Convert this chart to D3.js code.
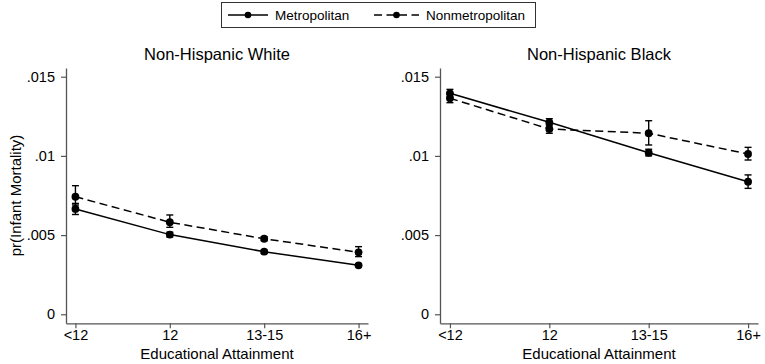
<!DOCTYPE html>
<html>
<head>
<meta charset="utf-8">
<script src="https://cdn.jsdelivr.net/npm/d3@7"></script>
<style>
  body { margin: 0; background: #fff; }
  svg { display: block; font-family: Arial, "Liberation Sans", sans-serif; }
</style>
</head>
<body>
<div id="chart"></div>
<script>
const CATEGORIES = ['<12', '12', '13-15', '16+'];
const SERIES = ['Metropolitan', 'Nonmetropolitan'];
const Y_TICKS = [0, 0.005, 0.01, 0.015];
const Y_TICK_LABELS = ['0', '.005', '.01', '.015'];

// Non-Hispanic White
const WHITE_METRO = [0.00665, 0.00503, 0.00395, 0.00309];
const WHITE_METRO_LO = [0.00630, 0.00488, 0.00385, 0.00300];
const WHITE_METRO_HI = [0.00700, 0.00518, 0.00405, 0.00318];
const WHITE_NONMETRO = [0.00742, 0.00581, 0.00477, 0.00391];
const WHITE_NONMETRO_LO = [0.00690, 0.00549, 0.00465, 0.00364];
const WHITE_NONMETRO_HI = [0.00812, 0.00627, 0.00490, 0.00427];

// Non-Hispanic Black
const BLACK_METRO = [0.01395, 0.01212, 0.01020, 0.00837];
const BLACK_METRO_LO = [0.01370, 0.01190, 0.01000, 0.00795];
const BLACK_METRO_HI = [0.01420, 0.01235, 0.01042, 0.00880];
const BLACK_NONMETRO = [0.01364, 0.01170, 0.01143, 0.01012];
const BLACK_NONMETRO_LO = [0.01336, 0.01143, 0.01069, 0.00974];
const BLACK_NONMETRO_HI = [0.01392, 0.01200, 0.01222, 0.01054];

const TITLES = ['Non-Hispanic White', 'Non-Hispanic Black'];
const X_LABEL = 'Educational Attainment';
const Y_LABEL = 'pr(Infant Mortality)';

const WIDTH = 765, HEIGHT = 364;
const AXIS_COLOR = '#555';

const panels = [
  { title: TITLES[0], left: 66, right: 368,
    metro: WHITE_METRO, metroLo: WHITE_METRO_LO, metroHi: WHITE_METRO_HI,
    non: WHITE_NONMETRO, nonLo: WHITE_NONMETRO_LO, nonHi: WHITE_NONMETRO_HI, yTitle: true },
  { title: TITLES[1], left: 440, right: 758,
    metro: BLACK_METRO, metroLo: BLACK_METRO_LO, metroHi: BLACK_METRO_HI,
    non: BLACK_NONMETRO, nonLo: BLACK_NONMETRO_LO, nonHi: BLACK_NONMETRO_HI, yTitle: false }
];

const svg = d3.select('#chart').append('svg')
  .attr('width', WIDTH)
  .attr('height', HEIGHT);

// plot region: x axis line at 323.3, top of y axis at 68
const y = d3.scaleLinear()
  .domain([-0.00057, 0.01555])
  .range([323.3, 68]);

panels.forEach(p => {
  const x = d3.scalePoint()
    .domain(CATEGORIES)
    .range([p.left, p.right])
    .padding(0.1);

  const g = svg.append('g');

  // axes
  const yAxis = g.append('g')
    .attr('transform', `translate(${p.left},0)`)
    .call(d3.axisLeft(y).tickValues(Y_TICKS).tickSize(5).tickSizeOuter(0)
      .tickFormat((d, i) => Y_TICK_LABELS[i]));
  const xAxis = g.append('g')
    .attr('transform', `translate(0,${y.range()[0]})`)
    .call(d3.axisBottom(x).tickSize(5).tickSizeOuter(0));

  [yAxis, xAxis].forEach(a => {
    a.select('.domain').attr('stroke', AXIS_COLOR).attr('stroke-width', 1.3);
    a.selectAll('.tick line').attr('stroke', AXIS_COLOR).attr('stroke-width', 1.2);
    a.selectAll('.tick text')
      .attr('fill', '#000')
      .style('font-size', '14.5px')
      .style('font-family', 'Arial, "Liberation Sans", sans-serif');
  });
  yAxis.selectAll('.tick text').attr('x', -11);
  xAxis.selectAll('.tick text').attr('y', 6);

  // titles
  g.append('text')
    .attr('x', (p.left + p.right) / 2)
    .attr('y', 60)
    .attr('text-anchor', 'middle')
    .style('font-size', '16.5px')
    .text(p.title);

  g.append('text')
    .attr('x', (p.left + p.right) / 2)
    .attr('y', 359)
    .attr('text-anchor', 'middle')
    .style('font-size', '15px')
    .text(X_LABEL);

  if (p.yTitle) {
    g.append('text')
      .attr('transform', `translate(21,${(y(0) + y(0.015)) / 2}) rotate(-90)`)
      .attr('text-anchor', 'middle')
      .style('font-size', '15px')
      .text(Y_LABEL);
  }

  const line = d3.line()
    .x((d, i) => x(CATEGORIES[i]))
    .y(d => y(d));

  const series = [
    { vals: p.metro, lo: p.metroLo, hi: p.metroHi, dash: null },
    { vals: p.non, lo: p.nonLo, hi: p.nonHi, dash: '8,4.5' }
  ];

  series.forEach(s => {
    g.append('path')
      .datum(s.vals)
      .attr('fill', 'none')
      .attr('stroke', '#000')
      .attr('stroke-width', 1.5)
      .attr('stroke-dasharray', s.dash)
      .attr('d', line);

    const bars = g.append('g');
    CATEGORIES.forEach((c, i) => {
      const cx = x(c);
      bars.append('line')
        .attr('x1', cx).attr('x2', cx)
        .attr('y1', y(s.lo[i])).attr('y2', y(s.hi[i]))
        .attr('stroke', '#000').attr('stroke-width', 1.4);
      [s.lo[i], s.hi[i]].forEach(v => {
        bars.append('line')
          .attr('x1', cx - 3.5).attr('x2', cx + 3.5)
          .attr('y1', y(v)).attr('y2', y(v))
          .attr('stroke', '#000').attr('stroke-width', 1.4);
      });
    });

    g.append('g').selectAll('circle')
      .data(s.vals)
      .join('circle')
        .attr('cx', (d, i) => x(CATEGORIES[i]))
        .attr('cy', d => y(d))
        .attr('r', 3.9)
        .attr('fill', '#000');
  });
});

// legend
const legend = svg.append('g');
legend.append('rect')
  .attr('x', 221.5).attr('y', 2.5)
  .attr('width', 314).attr('height', 25)
  .attr('fill', '#fff')
  .attr('stroke', '#333')
  .attr('stroke-width', 1);

const legendItems = [
  { name: SERIES[0], x0: 228, x1: 268, tx: 275, dash: null },
  { name: SERIES[1], x0: 374, x1: 419, tx: 426, dash: '8,4.5' }
];
legendItems.forEach(it => {
  legend.append('line')
    .attr('x1', it.x0).attr('x2', it.x1)
    .attr('y1', 15).attr('y2', 15)
    .attr('stroke', '#000').attr('stroke-width', 1.4)
    .attr('stroke-dasharray', it.dash);
  legend.append('circle')
    .attr('cx', (it.x0 + it.x1) / 2).attr('cy', 15)
    .attr('r', 3.3).attr('fill', '#000');
  legend.append('text')
    .attr('x', it.tx).attr('y', 20)
    .style('font-size', '13.5px')
    .text(it.name);
});
</script>
</body>
</html>
